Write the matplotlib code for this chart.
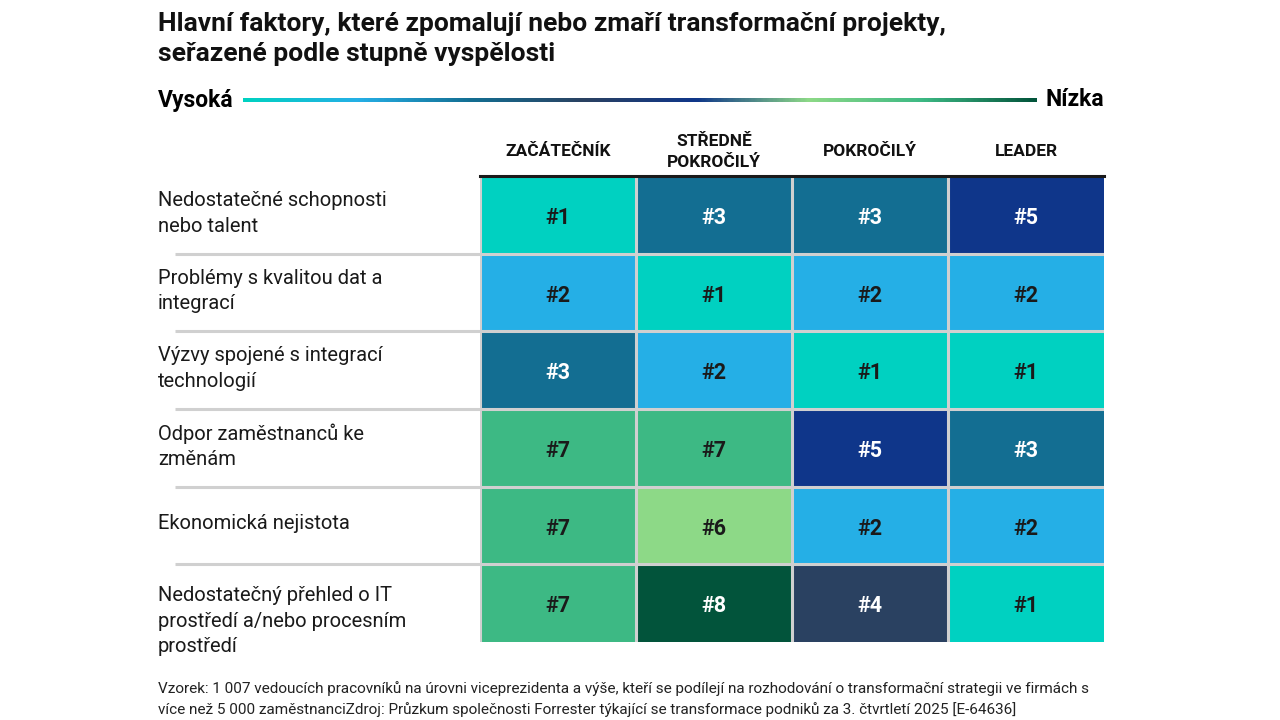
import numpy as np
import matplotlib
matplotlib.use('Agg')
import matplotlib.pyplot as plt
from matplotlib.colors import ListedColormap, LinearSegmentedColormap
import matplotlib.transforms as mtransforms

# data
columns = ['ZAČÁTEČNÍK', 'STŘEDNĚ\nPOKROČILÝ', 'POKROČILÝ', 'LEADER']
factors = ['Nedostatečné schopnosti\nnebo talent',
           'Problémy s kvalitou dat a\nintegrací',
           'Výzvy spojené s integrací\ntechnologií',
           'Odpor zaměstnanců ke\nzměnám',
           'Ekonomická nejistota',
           'Nedostatečný přehled o IT\nprostředí a/nebo procesním\nprostředí']
ranks = [[1, 3, 3, 5],
         [2, 1, 2, 2],
         [3, 2, 1, 1],
         [7, 7, 5, 3],
         [7, 6, 2, 2],
         [7, 8, 4, 1]]
rank_colors = ['#00D1C1', '#25AFE6', '#136E92', '#2A4161',
               '#0F368A', '#8DD987', '#3DB984', '#02543B']
dark_text_ranks = [1, 2, 6, 7]

title = ('Hlavní faktory, které zpomalují nebo zmaří transformační projekty,\n'
         'seřazené podle stupně vyspělosti')
footer = ('Vzorek: 1 007 vedoucích pracovníků na úrovni viceprezidenta a výše, kteří se podílejí na rozhodování o transformační strategii ve firmách s\n'
          'více než 5 000 zaměstnanciZdroj: Průzkum společnosti Forrester týkající se transformace podniků za 3. čtvrtletí 2025 [E-64636]')

plt.rcParams['font.family'] = ['Roboto', 'DejaVu Sans']
W, H = 1280, 720
fig = plt.figure(figsize=(12.8, 7.2), dpi=100)

def fx(px):
    return px / W

def fy(py):
    return 1 - py / H

# title
fig.text(fx(158), fy(12), title, fontsize=19, fontweight='bold', va='top',
         ha='left', linespacing=1.3, color='#111111')

# gradient scale bar
fig.text(fx(158), fy(100), 'Vysoká', fontsize=16.5, fontweight='bold', va='center', ha='left')
fig.text(fx(1104), fy(100), 'Nízka', fontsize=16.5, fontweight='bold', va='center', ha='right')
gax = fig.add_axes([fx(243), fy(102), fx(1037) - fx(243), 4 / H])
grad_cmap = LinearSegmentedColormap.from_list(
    'g', ['#00D1C1', '#25AFE6', '#136E92', '#2A4161', '#0F368A', '#8DD987', '#3DB984', '#02543B'])
gax.imshow(np.linspace(0, 1, 400)[None, :], aspect='auto', cmap=grad_cmap)
gax.axis('off')

# heatmap
left, right, top, bottom = 480, 1104, 176, 642
ax = fig.add_axes([fx(left), fy(bottom), fx(right) - fx(left), (bottom - top) / H])
arr = np.array(ranks)
cmap = ListedColormap(rank_colors)
ax.imshow(arr, cmap=cmap, vmin=0.5, vmax=8.5, aspect='auto',
          extent=(0, len(columns), len(factors), 0))
ax.set_xlim(0, len(columns))
ax.set_ylim(len(factors), 0)
ax.axis('off')

for i in range(len(factors)):
    for j in range(len(columns)):
        r = ranks[i][j]
        c = '#1a1a1a' if r in dark_text_ranks else 'white'
        ax.text(j + 0.5, i + 0.54, f'#{r}', ha='center', va='center',
                fontsize=15.5, fontweight='bold', color=c)

grid_c = '#D0D0D0'
for j in range(1, len(columns)):
    ax.axvline(j, color=grid_c, lw=2.2)
ax.axvline(0, color=grid_c, lw=2.2)
for i in range(1, len(factors)):
    ax.axhline(i, color=grid_c, lw=2.2)
ax.axhline(0, color='#1a1a1a', lw=2.2, clip_on=False)

# row separators extending left
trans = mtransforms.blended_transform_factory(fig.transFigure, ax.transData)
for i in range(1, len(factors)):
    ax.plot([fx(175), fx(left)], [i, i], transform=trans, color=grid_c,
            lw=2.2, clip_on=False, solid_capstyle='butt')

# row labels
for i, lab in enumerate(factors):
    n = lab.count('\n') + 1
    y = i + 0.5 + (0.23 if n > 2 else -0.02)
    ax.text(fx(158), y, lab, transform=trans, ha='left', va='center',
            fontsize=14.5, linespacing=1.45, color='#1a1a1a')

# column headers
for j, col in enumerate(columns):
    ax.text(j + 0.5, -0.31, col, ha='center', va='center', fontsize=12.5,
            fontweight='bold', linespacing=1.55, color='#111111')

# footer
fig.text(fx(158), fy(681), footer, fontsize=11, va='top', ha='left',
         linespacing=1.5, color='#222222')

fig.savefig('out.png', dpi=100, facecolor='white')
